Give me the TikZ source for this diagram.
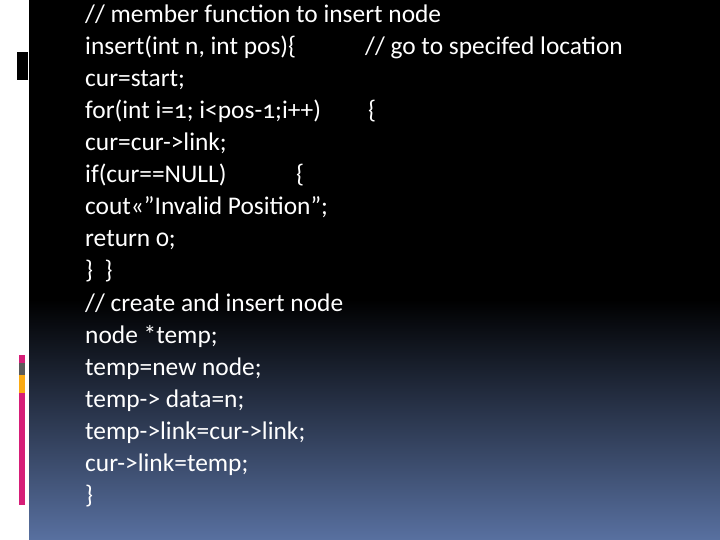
\documentclass[tikz,border=0pt]{standalone}
\usepackage{fontspec}
\setmainfont{Carlito}[Ligatures=ResetAll,Numbers=OldStyle]
\definecolor{mag}{RGB}{214,30,120}
\definecolor{gry}{RGB}{90,90,90}
\definecolor{org}{RGB}{250,170,20}
\definecolor{blu}{RGB}{88,112,160}
\begin{document}
\begin{tikzpicture}[x=1bp,y=-1bp,
  code/.style={anchor=base west,text=white,inner sep=0pt,font=\fontsize{25.5}{30}\selectfont}]
\useasboundingbox (0,0) rectangle (720,540);
\fill[white] (0,0) rectangle (29,540);
\fill[black] (29,0) rectangle (720,300);
\shade[top color=black,bottom color=blu] (29,299.5) rectangle (720,540);
\fill[black] (17,52) rectangle (28,80);
\fill[mag] (19,355) rectangle (25,363);
\fill[gry] (19,363) rectangle (25,375);
\fill[org] (19,375) rectangle (25,393);
\fill[mag] (19,393) rectangle (25,505);
\foreach \t [count=\i] in {{// member function to insert node},{insert(int n, int pos)\{},{cur=start;},{for(int i=1; i<pos-1;i++)},{cur=cur->link;},{if(cur==NULL)},{cout<<"Invalid Position";},{return 0;},{\}\ \ \}},{// create and insert node},{node *temp;},{temp=new node;},{temp-> data=n;},{temp->link=cur->link;},{cur->link=temp;},{\}}}
  \node[code] (l\i) at (85,{23+(\i-1)*32}) {\t};
\node[code] (c1) at (365,55) {// go to specifed location};
\node[code] (c2) at (368,119) {\{};
\node[code] (c3) at (296,183) {\{};
\end{tikzpicture}
\end{document}
